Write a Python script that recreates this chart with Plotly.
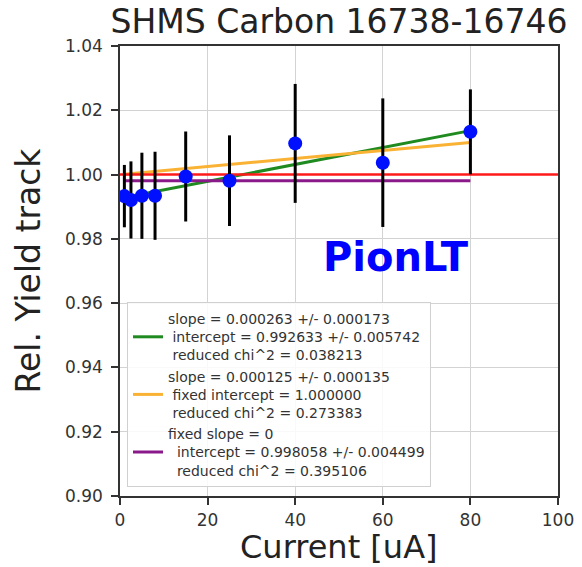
import plotly.graph_objects as go

# Beam current scan, SHMS carbon runs 16738-16746
current = [1, 2.5, 5, 8, 15, 25, 40, 60, 80]
rel_yield = [0.9933, 0.9921, 0.9934, 0.9934, 0.9994, 0.9981, 1.0097, 1.0037, 1.0133]
yield_err = [0.0097, 0.0120, 0.0134, 0.0137, 0.0140, 0.0141, 0.0185, 0.0200, 0.0132]

# Fit results
lin_slope, lin_intercept = 0.000263, 0.992633
fixint_slope, fixint_intercept = 0.000125, 1.000000
const_value = 0.998058

lin_label = ("slope = 0.000263 +/- 0.000173<br>"
             "\u00a0intercept = 0.992633 +/- 0.005742<br>"
             "\u00a0reduced chi^2 = 0.038213")
fixint_label = ("slope = 0.000125 +/- 0.000135<br>"
                "\u00a0fixed intercept = 1.000000<br>"
                "\u00a0reduced chi^2 = 0.273383")
const_label = ("fixed slope = 0<br>"
               "\u00a0\u00a0intercept = 0.998058 +/- 0.004499<br>"
               "\u00a0\u00a0reduced chi^2 = 0.395106")

x_ticks = [0, 20, 40, 60, 80, 100]
y_ticks = [0.90, 0.92, 0.94, 0.96, 0.98, 1.00, 1.02, 1.04]

xfit = [min(current), max(current)]

fig = go.Figure()

fig.add_trace(go.Scatter(
    x=xfit, y=[lin_intercept + lin_slope * v for v in xfit],
    mode="lines", line=dict(color="#1f8a1f", width=3), name=lin_label))
fig.add_trace(go.Scatter(
    x=xfit, y=[fixint_intercept + fixint_slope * v for v in xfit],
    mode="lines", line=dict(color="#f9b233", width=3), name=fixint_label))
fig.add_trace(go.Scatter(
    x=xfit, y=[const_value for _ in xfit],
    mode="lines", line=dict(color="#8a1a8a", width=3), name=const_label))
# reference line at unity
fig.add_trace(go.Scatter(
    x=[0, 100], y=[1.0, 1.0], mode="lines",
    line=dict(color="#ff1a1a", width=2.5), showlegend=False))

fig.add_trace(go.Scatter(
    x=current, y=rel_yield, mode="markers",
    marker=dict(color="#0010ff", size=14),
    error_y=dict(type="data", array=yield_err, color="black", thickness=3, width=0),
    showlegend=False))

fig.add_annotation(
    x=63, y=0.9745, xref="x", yref="y", text="<b>PionLT</b>", showarrow=False,
    font=dict(family="DejaVu Sans", size=40, color="#0000ff"))

# x-axis title placed at the bottom edge of the figure
fig.add_annotation(
    x=0.5, y=-71 / 450, xref="paper", yref="paper", xanchor="center", yanchor="bottom",
    text="Current [uA]", showarrow=False, borderpad=0,
    font=dict(family="DejaVu Sans", size=32, color="#222222"))

axis_common = dict(
    showgrid=True, gridcolor="#d3d3d3", gridwidth=1,
    showline=True, linecolor="#333333", linewidth=1.5, mirror=True,
    ticks="outside", ticklen=7, tickwidth=1.5, tickcolor="#333333",
    automargin=False,
    tickfont=dict(family="DejaVu Sans", size=17, color="#333333"),
    zeroline=False,
)

fig.update_layout(
    width=582, height=567,
    paper_bgcolor="white", plot_bgcolor="white",
    margin=dict(l=120, r=24, t=46, b=71),
    title=dict(text="SHMS Carbon 16738-16746", x=0.5, xref="paper", xanchor="center",
               y=0.982, yanchor="top",
               font=dict(family="DejaVu Sans", size=33, color="#222222")),
    xaxis=dict(range=[0, 100], tickvals=x_ticks, ticklabelstandoff=1, **axis_common),
    yaxis=dict(range=[0.90, 1.04], tickvals=y_ticks, tickformat=".2f",
               ticklabelstandoff=5,
               title=dict(text="Rel. Yield track", standoff=14,
                          font=dict(family="DejaVu Sans", size=33, color="#222222")),
               **axis_common),
    legend=dict(x=0.016, y=0.02, xanchor="left", yanchor="bottom",
                bgcolor="rgba(255,255,255,0.85)", bordercolor="#d0d0d0", borderwidth=1,
                font=dict(family="DejaVu Sans", size=14, color="#333333")),
    showlegend=True,
)

fig.write_html("out.html")
